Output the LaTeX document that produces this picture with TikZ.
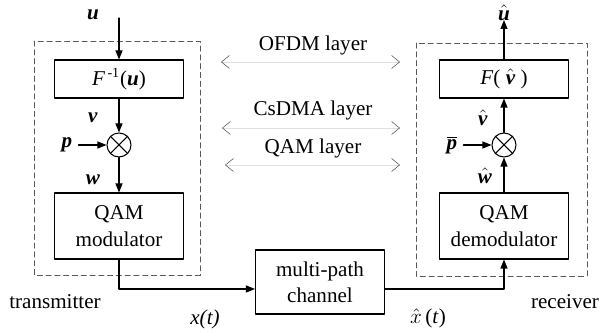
\documentclass[tikz,border=0pt]{standalone}
\usepackage{fontspec}
\setmainfont{Liberation Serif}
\usetikzlibrary{arrows.meta}

\newcommand{\bv}[1]{\textbf{\textit{#1}}}

\begin{document}
\begin{tikzpicture}[line cap=round,line join=round,>={Triangle[length=1.8mm,width=1.4mm]},x=0.02cm,y=-0.02cm,
  font=\fontsize{12}{15}\selectfont,
  blk/.style={draw,line width=0.6pt,minimum width=2.58cm,inner sep=0pt,align=center},
  mix/.style={draw,circle,line width=0.6pt,minimum size=0.48cm,inner sep=0pt},
  frame/.style={draw=black!65,dash pattern=on 3pt off 2pt,line width=0.4pt},
  sig/.style={line width=0.6pt,->},
  layer/.style={draw=black!12,line width=0.3pt,{Straight Barb[color=black!70,length=1.6mm,width=2.6mm]}-{Straight Barb[color=black!70,length=1.6mm,width=2.6mm]}}]
\useasboundingbox (0,0) rectangle (600,333);

% frames
\draw[frame] (34,41) rectangle (200,275);
\draw[frame] (416,43) rectangle (587,276);

% transmitter
\node[blk,minimum height=0.76cm] (finv) at (119,79) {\textit{F}\textsuperscript{\,-1}(\bv{u})};
\node[mix] (mixt) at (119,145) {};
\draw[line width=0.6pt] (mixt.north west) -- (mixt.south east) (mixt.north east) -- (mixt.south west);
\node[blk,minimum height=1.32cm] (qmod) at (119,226) {QAM\\modulator};
\coordinate (uin) at (119,18);
\node (lu) at (93,15) {\bv{u}};
\node (lv) at (93,118) {\bv{v}};
\node (lw) at (93,180) {\bv{w}};
\node (lp) at (67,145) {\bv{p}};
\draw[sig] (uin) -- (finv);
\draw[sig] (finv) -- (mixt);
\draw[sig] (lp) -- (mixt);
\draw[sig] (mixt) -- (qmod);

% channel
\node[blk,minimum height=1.28cm] (chan) at (320,282) {multi-path\\channel};
\draw[sig] (qmod.south) |- ([yshift=-0.14cm]chan.west);

% receiver
\node[blk,minimum height=0.76cm] (fv) at (504,79) {\textit{F}( $\hat{\mbox{\bv{v}}}$ )};
\node[mix] (mixr) at (504,145) {};
\draw[line width=0.6pt] (mixr.north west) -- (mixr.south east) (mixr.north east) -- (mixr.south west);
\node[blk,minimum height=1.32cm] (qdem) at (504,226) {QAM\\demodulator};
\coordinate (uout) at (504,20);
\node (luh) at (504,13) {$\hat{\mbox{\bv{u}}}$};
\node (lvh) at (483,118) {$\hat{\mbox{\bv{v}}}$};
\node (lwh) at (485,176) {$\hat{\mbox{\bv{w}}}$};
\node (lpb) at (452,145) {$\overline{\mbox{\bv{p}}}$};
\draw[sig] ([yshift=-0.14cm]chan.east) -| (qdem.south);
\draw[sig] (qdem) -- (mixr);
\draw[sig] (lpb) -- (mixr);
\draw[sig] (mixr) -- (fv);
\draw[sig] (fv) -- (uout);

% layers
\node (lofdm) at (313,45) {OFDM layer};
\node (lcs) at (313,110) {CsDMA layer};
\node (lqam) at (313,148) {QAM layer};
\draw[layer] (221,62) -- (400,62);
\draw[layer] (222,128) -- (400,128);
\draw[layer] (225,165) -- (400,165);

% side labels
\node (ltx) at (55,302) {transmitter};
\node (lrx) at (565,302) {receiver};
\node (lx) at (205,319) {\textit{x(t)}};
\node (lxh) at (428,318) {$\hat{x}\,$(\textit{t})};
\end{tikzpicture}
\end{document}
